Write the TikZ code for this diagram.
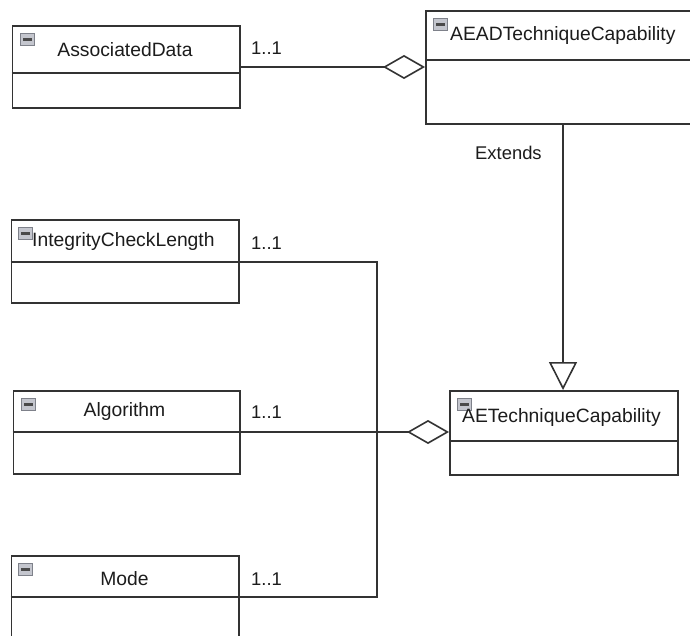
\documentclass[tikz,border=0pt]{standalone}
\usepackage{fontspec}
\setmainfont{Liberation Sans}
\usetikzlibrary{arrows.meta,calc}

\definecolor{linegray}{HTML}{333333}
\definecolor{textdark}{HTML}{1C1C1C}
\definecolor{iconfill}{HTML}{C4C6CE}
\definecolor{iconedge}{HTML}{7E818A}
\definecolor{iconbar}{HTML}{4A4A4A}

\tikzset{
  classbox/.style={draw=linegray, line width=1.6pt, rectangle, anchor=north west,
                   inner sep=0pt, fill=white},
  divider/.style={draw=linegray, line width=1.6pt},
  classname/.style={text=textdark, font=\fontsize{19.3}{22}\selectfont, inner sep=0pt},
  mult/.style={text=textdark, font=\fontsize{18.4}{21}\selectfont, inner sep=0pt, anchor=west},
  minusicon/.style={anchor=north west, minimum width=14pt, minimum height=12pt,
                    inner sep=0pt, draw=iconedge, line width=0.9pt, fill=iconfill,
                    path picture={\fill[iconbar] ($(path picture bounding box.west)+(2.5,1.3)$)
                                  rectangle ($(path picture bounding box.east)+(-2.5,-1.3)$);}},
  wire/.style={draw=linegray, line width=1.6pt},
  agg/.style={wire, -{Diamond[open, length=42pt, width=24pt, line width=1.6pt]}},
  extends/.style={wire, -{Triangle[open, length=28pt, width=28pt, line width=1.6pt]}}
}

\begin{document}
\begin{tikzpicture}[x=1pt, y=-1pt]
  \clip (0,0) rectangle (690,636);
  \fill[white] (0,0) rectangle (690,636);

  % class boxes
  \node[classbox, minimum width=227.5pt, minimum height=82.5pt] (assoc) at (11.5,25) {};
  \node[classbox, minimum width=280pt,   minimum height=113pt]  (aead)  at (425,10) {};
  \node[classbox, minimum width=227.5pt, minimum height=83pt]   (icl)   at (10.5,219) {};
  \node[classbox, minimum width=226.5pt, minimum height=83pt]   (alg)   at (12.5,390) {};
  \node[classbox, minimum width=228pt,   minimum height=84pt]   (aet)   at (449,390) {};
  \node[classbox, minimum width=227.5pt, minimum height=100pt]  (mode)  at (10.5,555) {};

  % compartment dividers
  \draw[divider] (assoc.west |- 0,73)  -- (assoc.east |- 0,73);
  \draw[divider] (aead.west |- 0,60)   -- (aead.east |- 0,60);
  \draw[divider] (icl.west |- 0,262)   -- (icl.east |- 0,262);
  \draw[divider] (alg.west |- 0,432)   -- (alg.east |- 0,432);
  \draw[divider] (aet.west |- 0,441)   -- (aet.east |- 0,441);
  \draw[divider] (mode.west |- 0,597)  -- (mode.east |- 0,597);

  % collapse icons
  \node[minusicon] (associcon) at ($(assoc.north west)+(8.5,8)$) {};
  \node[minusicon] (aeadicon)  at ($(aead.north west)+(8,8)$) {};
  \node[minusicon] (iclicon)   at ($(icl.north west)+(7.5,8)$) {};
  \node[minusicon] (algicon)   at ($(alg.north west)+(8.5,8)$) {};
  \node[minusicon] (aeticon)   at ($(aet.north west)+(8,8)$) {};
  \node[minusicon] (modeicon)  at ($(mode.north west)+(7.5,8)$) {};

  % class names
  \node[classname] (assocname) at (125,50) {AssociatedData};
  \node[classname, anchor=west] (aeadname) at (450,36) {AEADTechniqueCapability};
  \node[classname, anchor=west] (iclname) at (32,242) {IntegrityCheckLength};
  \node[classname] (algname) at (124.5,412) {Algorithm};
  \node[classname, anchor=west] (aetname) at (462,418) {AETechniqueCapability};
  \node[classname] (modename) at (124.5,579) {Mode};

  % multiplicities and stereotype label
  \node[mult] (m1) at (251,48)  {1..1};
  \node[mult] (m2) at (251,243) {1..1};
  \node[mult] (m3) at (251,412) {1..1};
  \node[mult] (m4) at (251,579) {1..1};
  \node[mult] (ext) at (475,153) {Extends};

  % relations
  \draw[agg] (assoc.east |- 0,67) -- (aead.west |- 0,67);
  \draw[extends] (aead.south -| 563,0) -- (aet.north -| 563,0);

  \coordinate (join) at (377,432);
  \draw[agg] (alg.east |- 0,432) -- (aet.west |- 0,432);
  \draw[wire] (icl.east |- 0,262) -| (join);
  \draw[wire] (mode.east |- 0,597) -| (join);
\end{tikzpicture}
\end{document}
